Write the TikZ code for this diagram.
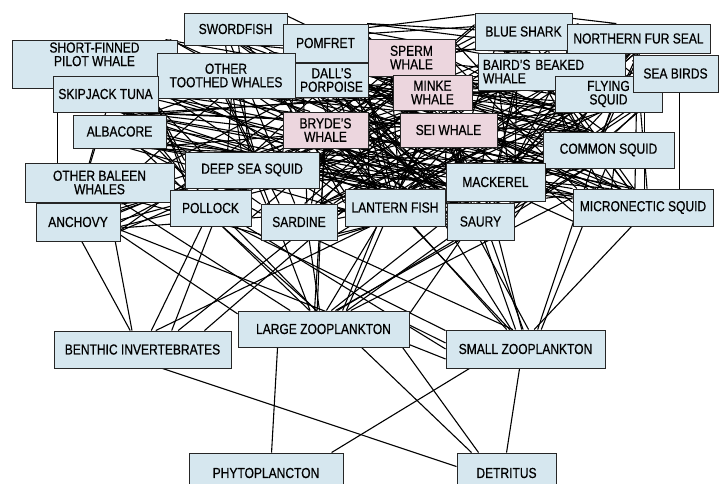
\documentclass[tikz,border=0pt]{standalone}
\usepackage{fontspec}
\setmainfont{Liberation Sans}[FakeStretch=0.83,FakeBold=0.6]
\usetikzlibrary{calc}
\definecolor{boxblue}{RGB}{214,231,239}
\definecolor{boxpink}{RGB}{236,214,222}
\pgfdeclarelayer{bg}
\pgfsetlayers{bg,main}
\newcommand{\fwnode}[7]{\node[fwbox, fill=#7, minimum width=#4pt-#2pt, minimum height=#5pt-#3pt] (#1) at ({(#2+#4)/2},{(#3+#5)/2}) {#6};}
\newcommand{\fwlinks}[2]{%
 \foreach \a/\b in {#2}{%
  \path (\a.center); \pgfgetlastxy{\xa}{\ya}
  \path (\b.center); \pgfgetlastxy{\xb}{\yb}
  \pgfmathtruncatemacro\ta{mod(atan2(\yb-\ya,\xb-\xa)+#1*(rnd-0.5)+720,360)}
  \pgfmathtruncatemacro\tb{mod(atan2(\ya-\yb,\xa-\xb)+#1*(rnd-0.5)+720,360)}
  \draw[edge] (\a.\ta) -- (\b.\tb);
 }}
\begin{document}
\begin{tikzpicture}[x=1pt,y=-1pt,
  fwbox/.style={draw=black!85, line width=0.9pt, inner sep=2pt, align=center,
    font=\fontsize{14.5}{13.5}\selectfont, text=black},
  edge/.style={line width=1.1pt, black}]
\useasboundingbox (0,0) rectangle (724,484);
% nodes
\fwnode{sword}{184}{13}{287}{45}{SWORDFISH}{boxblue}
\fwnode{pilot}{12}{40}{177}{88}{SHORT-FINNED\\PILOT WHALE\\[6pt]}{boxblue}
\fwnode{pomfret}{283}{24}{368}{62}{POMFRET}{boxblue}
\fwnode{bshark}{475}{13}{572}{50}{BLUE SHARK}{boxblue}
\fwnode{nfseal}{567}{24}{710}{53}{NORTHERN FUR SEAL}{boxblue}
\fwnode{toothed}{157}{53}{295}{98}{OTHER\\TOOTHED WHALES}{boxblue}
\fwnode{dall}{295}{63}{368}{97}{DALL'S\\PORPOISE}{boxblue}
\fwnode{skipjack}{53}{76}{158}{112}{SKIPJACK TUNA}{boxblue}
\fwnode{sperm}{368}{39}{455}{76}{SPERM\\WHALE}{boxpink}
\node[fwbox, fill=boxblue, minimum width=147pt, minimum height=37pt, text width=137pt, align=left] (baird) at (551.5,71.5) {BAIRD'S BEAKED\\WHALE};
\fwnode{flying}{555}{76}{662}{112}{FLYING\\SQUID}{boxblue}
\fwnode{seabirds}{633}{55}{718}{92}{SEA BIRDS}{boxblue}
\fwnode{minke}{393}{75}{472}{110}{MINKE\\WHALE}{boxpink}
\fwnode{albacore}{73}{115}{166}{148}{ALBACORE}{boxblue}
\fwnode{bryde}{283}{112}{368}{148}{BRYDE'S\\WHALE}{boxpink}
\fwnode{sei}{400}{113}{497}{147}{SEI WHALE}{boxpink}
\fwnode{commonsq}{543}{132}{674}{168}{COMMON SQUID}{boxblue}
\fwnode{deepsq}{185}{152}{319}{188}{DEEP SEA SQUID}{boxblue}
\fwnode{obaleen}{25}{163}{174}{202}{OTHER BALEEN\\WHALES}{boxblue}
\fwnode{anchovy}{36}{203}{120}{241}{ANCHOVY}{boxblue}
\fwnode{pollock}{170}{190}{251}{226}{POLLOCK}{boxblue}
\fwnode{sardine}{261}{204}{337}{240}{SARDINE}{boxblue}
\fwnode{mackerel}{446}{163}{545}{201}{MACKEREL}{boxblue}
\fwnode{lantern}{345}{189}{445}{226}{LANTERN FISH}{boxblue}
\fwnode{saury}{447}{203}{514}{240}{SAURY}{boxblue}
\fwnode{micro}{573}{189}{713}{226}{MICRONECTIC SQUID}{boxblue}
\fwnode{lz}{238}{311}{409}{347}{LARGE ZOOPLANKTON}{boxblue}
\fwnode{benthic}{54}{331}{231}{368}{BENTHIC INVERTEBRATES}{boxblue}
\fwnode{sz}{446}{330}{605}{368}{SMALL ZOOPLANKTON}{boxblue}
\fwnode{phyto}{189}{453}{343}{493}{PHYTOPLANCTON}{boxblue}
\fwnode{detritus}{457}{453}{556}{493}{DETRITUS}{boxblue}
% connectors
\begin{pgfonlayer}{bg}
\fill[white] (0,0) rectangle (724,484);
\pgfmathsetseed{3}
% predator - prey links among the upper groups
\fwlinks{70}{
 sword/flying, sword/commonsq, sword/deepsq, sword/mackerel, sword/saury, sword/pomfret, sword/lantern, sword/micro, sword/sardine,
 pilot/flying, pilot/commonsq, pilot/deepsq, pilot/micro, pilot/mackerel, pilot/pollock, pilot/lantern,
 toothed/flying, toothed/commonsq, toothed/deepsq, toothed/micro, toothed/mackerel, toothed/saury, toothed/sardine, toothed/anchovy, toothed/pollock, toothed/lantern, toothed/pomfret,
 dall/flying, dall/commonsq, dall/micro, dall/lantern, dall/saury, dall/mackerel, dall/pollock, dall/deepsq,
 skipjack/flying, skipjack/commonsq, skipjack/micro, skipjack/sardine, skipjack/anchovy, skipjack/saury, skipjack/lantern, skipjack/mackerel,
 albacore/flying, albacore/commonsq, albacore/micro, albacore/saury, albacore/anchovy, albacore/sardine, albacore/lantern, albacore/mackerel,
 bryde/anchovy, bryde/sardine, bryde/saury, bryde/mackerel, bryde/lantern,
 bshark/flying, bshark/commonsq, bshark/micro, bshark/saury, bshark/mackerel, bshark/pomfret, bshark/sardine, bshark/deepsq,
 nfseal/flying, nfseal/commonsq, nfseal/micro, nfseal/saury, nfseal/mackerel, nfseal/pollock, nfseal/anchovy, nfseal/lantern, nfseal/deepsq,
 sperm/deepsq, sperm/flying, sperm/commonsq, sperm/micro, sperm/pomfret, sperm/pollock,
 minke/anchovy, minke/sardine, minke/saury, minke/mackerel, minke/pollock,
 baird/deepsq, baird/micro, baird/pollock, baird/lantern, baird/flying,
 seabirds/saury, seabirds/anchovy, seabirds/flying, seabirds/sardine,
 sei/sardine, sei/anchovy, sei/saury, sei/mackerel, sei/lantern,
 obaleen/sardine, obaleen/anchovy,
 pomfret/lantern, pomfret/micro,
 flying/lantern, flying/sardine, flying/anchovy,
 commonsq/lantern, commonsq/micro, commonsq/sardine, commonsq/anchovy, commonsq/saury,
 deepsq/lantern, deepsq/micro, deepsq/pollock,
 mackerel/sardine, mackerel/anchovy, mackerel/lantern}
\fwlinks{90}{
 sword/flying, sword/commonsq, sword/deepsq, sword/mackerel, sword/saury, sword/lantern, sword/micro,
 pilot/flying, pilot/commonsq, pilot/deepsq, pilot/micro, pilot/mackerel,
 toothed/flying, toothed/commonsq, toothed/deepsq, toothed/micro, toothed/mackerel, toothed/saury, toothed/lantern, toothed/minke, toothed/sei, toothed/bryde, toothed/dall, toothed/nfseal, toothed/sperm, toothed/baird,
 dall/flying, dall/commonsq, dall/micro, dall/lantern, dall/saury, dall/mackerel, dall/sardine, dall/anchovy,
 skipjack/flying, skipjack/commonsq, skipjack/micro, skipjack/saury, skipjack/lantern, skipjack/mackerel, skipjack/deepsq,
 albacore/flying, albacore/commonsq, albacore/micro, albacore/saury, albacore/lantern, albacore/mackerel, albacore/deepsq, albacore/pomfret,
 bryde/saury, bryde/mackerel, bryde/lantern, bryde/anchovy,
 bshark/flying, bshark/commonsq, bshark/micro, bshark/saury, bshark/mackerel, bshark/deepsq, bshark/lantern, bshark/anchovy, bshark/pollock, bshark/nfseal, bshark/seabirds,
 nfseal/flying, nfseal/commonsq, nfseal/micro, nfseal/saury, nfseal/mackerel, nfseal/sardine, nfseal/pomfret,
 sperm/deepsq, sperm/flying, sperm/commonsq, sperm/micro, sperm/lantern, sperm/mackerel,
 minke/anchovy, minke/sardine, minke/saury, minke/mackerel, minke/lantern,
 baird/deepsq, baird/micro, baird/commonsq, baird/pomfret, baird/saury, baird/mackerel,
 seabirds/saury, seabirds/mackerel, seabirds/commonsq, seabirds/lantern,
 sei/sardine, sei/saury, sei/mackerel, sei/lantern, sei/micro,
 pomfret/lantern, pomfret/micro, pomfret/saury, pomfret/flying, pomfret/commonsq,
 flying/lantern, flying/saury, flying/sardine, flying/mackerel,
 commonsq/lantern, commonsq/micro, commonsq/saury, commonsq/sardine,
 deepsq/lantern, deepsq/micro, deepsq/sardine,
 mackerel/sardine, mackerel/lantern, mackerel/saury,
 micro/lantern, saury/lantern, sardine/lantern}
% links to the plankton and the bottom
\fwlinks{60}{
 skipjack/lz, albacore/lz, bryde/lz, bryde/sz, minke/lz, minke/sz, seabirds/lz, sei/lz, sei/sz,
 obaleen/lz, obaleen/benthic, pomfret/lz, pomfret/sz, flying/lz, flying/sz,
 commonsq/lz, commonsq/sz, deepsq/lz, deepsq/benthic, micro/lz, micro/sz,
 mackerel/lz, mackerel/sz, mackerel/benthic, saury/lz, saury/sz,
 lantern/lz, lantern/sz, lantern/benthic, sardine/sz, sardine/lz, sardine/benthic,
 anchovy/lz, anchovy/benthic, pollock/lz, pollock/benthic, pollock/sz}
% specific connectors
\draw[edge] ([xshift=47pt]seabirds.south west) -- ([xshift=107pt]micro.north west);
\draw[edge] ([xshift=90pt]flying.south west) -- ([xshift=72pt]micro.north west);
\draw[edge] ([xshift=46pt]pilot.south west) -- ([xshift=33pt]obaleen.north west);
\draw[edge] (obaleen.east) -- (sz.west);
\draw[edge] ([yshift=-8pt]anchovy.east) -- ([yshift=-10pt]sz.west);
\draw[edge] ([yshift=4pt]lz.east) -- ([yshift=6pt]sz.west);
\draw[edge] ([xshift=40pt]lz.south west) -- ([xshift=83pt]phyto.north west);
\draw[edge] ([xshift=24pt]sz.south west) -- ([xshift=143pt]phyto.north west);
\draw[edge] ([xshift=124pt]lz.south west) -- ([xshift=15pt]detritus.north west);
\draw[edge] ([xshift=165pt]lz.south west) -- ([xshift=22pt]detritus.north west);
\draw[edge] ([xshift=74pt]sz.south west) -- ([xshift=50pt]detritus.north west);
\draw[edge] ([xshift=109pt]benthic.south west) -- ([yshift=-14pt]detritus.north west);
\draw[edge] ([yshift=-4pt]pomfret.north east) -- ([yshift=-2pt]bshark.north west);
\draw[edge] ([yshift=-10pt]pomfret.north east) -- ([yshift=-14pt]bshark.north west);
\end{pgfonlayer}
\end{tikzpicture}
\end{document}
